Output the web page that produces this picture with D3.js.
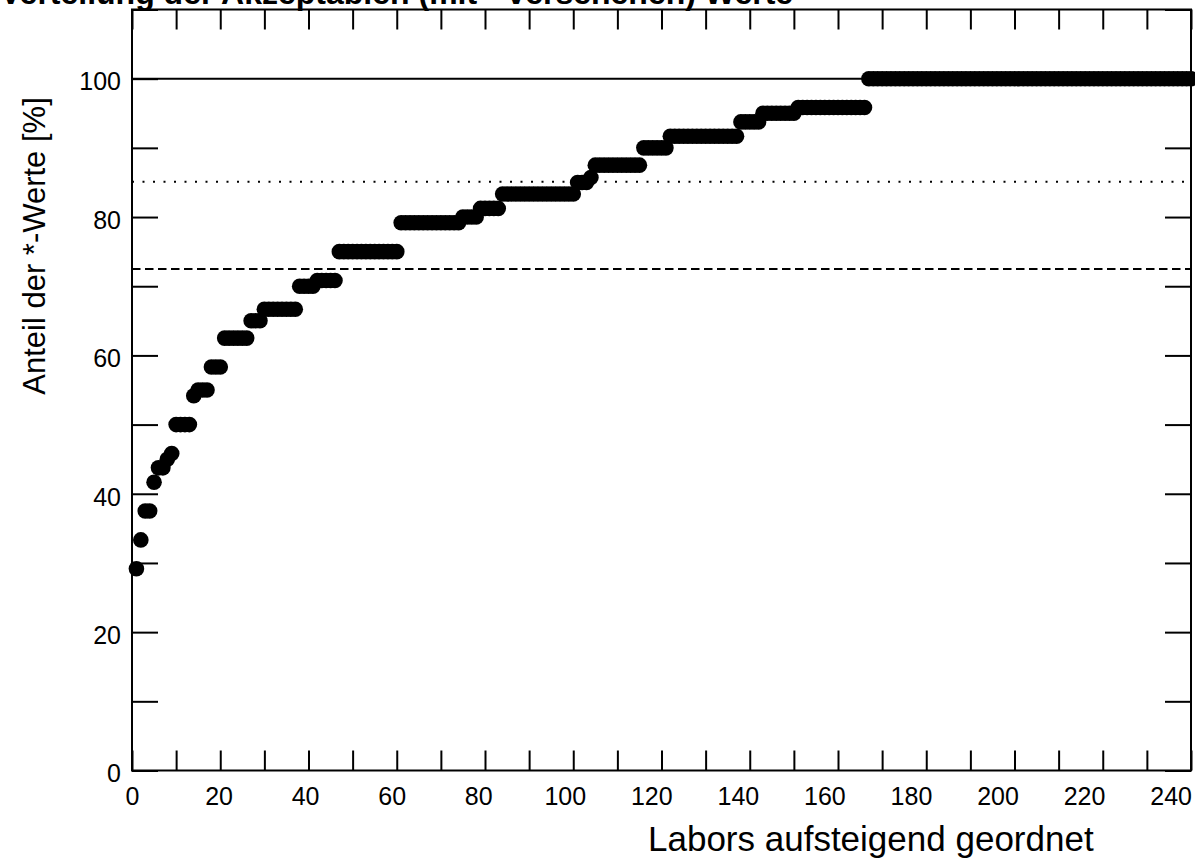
<!DOCTYPE html>
<html>
<head>
<meta charset="utf-8">
<script src="https://cdn.jsdelivr.net/npm/d3@7/dist/d3.min.js"></script>
<style>
  html, body { margin: 0; padding: 0; background: #fff; }
  svg { display: block; font-family: "Liberation Sans", Arial, sans-serif; }
</style>
</head>
<body>
<svg id="chart" width="1195" height="862"></svg>
<script>
// Share of starred values per lab, labs sorted ascending (lab 1 .. 240)
const labShare = [
  29.17, 33.33, 37.5, 37.5, 41.67, 43.75, 43.75, 45, 45.83, 50, 50, 50, 50, 54.17, 55, 55, 55, 58.33, 58.33, 58.33,
  62.5, 62.5, 62.5, 62.5, 62.5, 62.5, 65, 65, 65, 66.67, 66.67, 66.67, 66.67, 66.67, 66.67, 66.67, 66.67, 70, 70, 70,
  70, 70.83, 70.83, 70.83, 70.83, 70.83, 75, 75, 75, 75, 75, 75, 75, 75, 75, 75, 75, 75, 75, 75,
  79.17, 79.17, 79.17, 79.17, 79.17, 79.17, 79.17, 79.17, 79.17, 79.17, 79.17, 79.17, 79.17, 79.17, 80, 80, 80, 80, 81.25, 81.25,
  81.25, 81.25, 81.25, 83.33, 83.33, 83.33, 83.33, 83.33, 83.33, 83.33, 83.33, 83.33, 83.33, 83.33, 83.33, 83.33, 83.33, 83.33, 83.33, 83.33,
  85, 85, 85, 85.71, 87.5, 87.5, 87.5, 87.5, 87.5, 87.5, 87.5, 87.5, 87.5, 87.5, 87.5, 90, 90, 90, 90, 90,
  90, 91.67, 91.67, 91.67, 91.67, 91.67, 91.67, 91.67, 91.67, 91.67, 91.67, 91.67, 91.67, 91.67, 91.67, 91.67, 91.67, 93.75, 93.75, 93.75,
  93.75, 93.75, 95, 95, 95, 95, 95, 95, 95, 95, 95.83, 95.83, 95.83, 95.83, 95.83, 95.83, 95.83, 95.83, 95.83, 95.83,
  95.83, 95.83, 95.83, 95.83, 95.83, 95.83, 100, 100, 100, 100, 100, 100, 100, 100, 100, 100, 100, 100, 100, 100,
  100, 100, 100, 100, 100, 100, 100, 100, 100, 100, 100, 100, 100, 100, 100, 100, 100, 100, 100, 100,
  100, 100, 100, 100, 100, 100, 100, 100, 100, 100, 100, 100, 100, 100, 100, 100, 100, 100, 100, 100,
  100, 100, 100, 100, 100, 100, 100, 100, 100, 100, 100, 100, 100, 100, 100, 100, 100, 100, 100, 100
];

// Horizontal reference levels
const refSolid = 100;
const refDotted = 85.1;
const refDashed = 72.5;

// Axis ticks and labels
const xTicks = [0, 10, 20, 30, 40, 50, 60, 70, 80, 90, 100, 110, 120, 130, 140, 150, 160, 170, 180, 190, 200, 210, 220, 230, 240];
const xLabels = [0, 20, 40, 60, 80, 100, 120, 140, 160, 180, 200, 220, 240];
const yTicks = [0, 10, 20, 30, 40, 50, 60, 70, 80, 90, 100, 110];
const yLabels = [0, 20, 40, 60, 80, 100];

const titleText = "Verteilung der Akzeptablen (mit * versehenen) Werte";
const xTitle = "Labors aufsteigend geordnet";
const yTitle = "Anteil der *-Werte [%]";

const svg = d3.select("#chart");
svg.append("rect").attr("width", 1195).attr("height", 862).attr("fill", "#fff");

const plot = { left: 132, right: 1191, top: 9.5, bottom: 770.5 };
const x = d3.scaleLinear().domain([0, 240]).range([plot.left, plot.right]);
const y = d3.scaleLinear().domain([0, 110]).range([plot.bottom, plot.top]);

// Title (runs off the top edge)
svg.append("text")
  .attr("x", 0).attr("y", 4)
  .attr("font-size", 32).attr("font-weight", "bold")
  .attr("fill", "#000")
  .text(titleText);

// Reference lines
const refs = svg.append("g").attr("stroke", "#000").attr("fill", "none");
refs.append("line")
  .attr("x1", plot.left).attr("x2", plot.right)
  .attr("y1", y(refSolid)).attr("y2", y(refSolid))
  .attr("stroke-width", 2);
refs.append("line")
  .attr("x1", plot.left).attr("x2", plot.right)
  .attr("y1", y(refDotted)).attr("y2", y(refDotted))
  .attr("stroke-width", 2).attr("stroke-dasharray", "2,8.5");
refs.append("line")
  .attr("x1", plot.left).attr("x2", plot.right)
  .attr("y1", y(refDashed)).attr("y2", y(refDashed))
  .attr("stroke-width", 2).attr("stroke-dasharray", "8.5,4.5");

// Axes: ticks point inward on all four sides
function styleAxis(g) {
  g.select(".domain").remove();
  g.selectAll(".tick line").attr("stroke", "#000").attr("stroke-width", 2);
  g.selectAll(".tick text").attr("fill", "#000").attr("font-size", 25)
    .attr("font-family", "Liberation Sans, Arial, sans-serif");
}

const fmtX = d => xLabels.includes(d) ? String(d) : "";
const fmtY = d => yLabels.includes(d) ? String(d) : "";

const gx = svg.append("g")
  .attr("transform", `translate(0,${plot.bottom})`)
  .call(d3.axisBottom(x).tickValues(xTicks).tickFormat(fmtX)
    .tickSizeInner(-20).tickSizeOuter(0).tickPadding(16.5));
styleAxis(gx);
gx.selectAll(".tick text").attr("dx", d => -0.085 * d);

svg.append("g")
  .attr("transform", `translate(0,${plot.top})`)
  .call(d3.axisTop(x).tickValues(xTicks).tickFormat("")
    .tickSizeInner(-20).tickSizeOuter(0))
  .call(styleAxis);

const gy = svg.append("g")
  .attr("transform", `translate(${plot.left},0)`)
  .call(d3.axisLeft(y).tickValues(yTicks).tickFormat(fmtY)
    .tickSizeInner(-26).tickSizeOuter(0).tickPadding(11));
styleAxis(gy);
gy.selectAll(".tick text").attr("dy", "0.45em");

svg.append("g")
  .attr("transform", `translate(${plot.right},0)`)
  .call(d3.axisRight(y).tickValues(yTicks).tickFormat("")
    .tickSizeInner(-26).tickSizeOuter(0))
  .call(styleAxis);

// Frame
svg.append("rect")
  .attr("x", plot.left).attr("y", plot.top)
  .attr("width", plot.right - plot.left).attr("height", plot.bottom - plot.top)
  .attr("fill", "none").attr("stroke", "#000").attr("stroke-width", 2);

// Points
svg.append("g")
  .selectAll("circle")
  .data(labShare)
  .join("circle")
  .attr("cx", (d, i) => x(i + 1))
  .attr("cy", d => y(d))
  .attr("r", 7.8)
  .attr("fill", "#000");

// Axis titles
svg.append("text")
  .attr("x", 648).attr("y", 851)
  .attr("font-size", 35).attr("fill", "#000")
  .text(xTitle);

svg.append("text")
  .attr("transform", "translate(45,246) rotate(-90)")
  .attr("text-anchor", "middle")
  .attr("font-size", 31).attr("fill", "#000")
  .text(yTitle);
</script>
</body>
</html>
